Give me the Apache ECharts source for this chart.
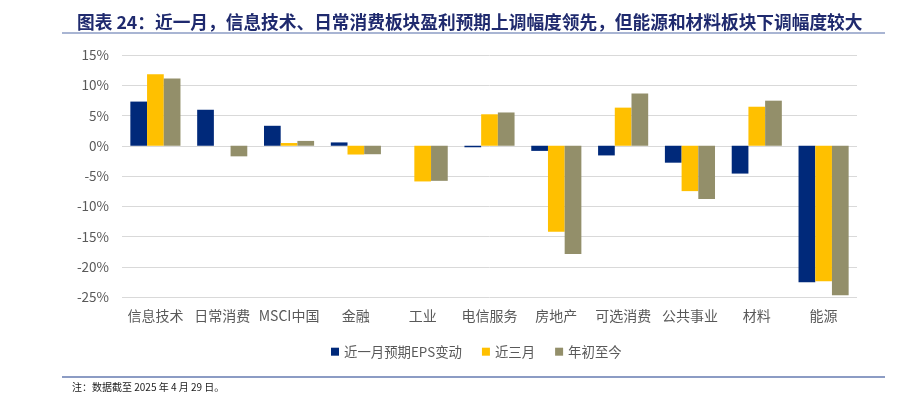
<!DOCTYPE html>
<html><head><meta charset="utf-8">
<script src="https://cdn.jsdelivr.net/npm/echarts@6/dist/echarts.min.js"></script>
<style>html,body{margin:0;padding:0;background:#fff}#c{width:901px;height:398px}</style>
</head><body><div id="c"></div>
<script>
const categories = ['信息技术','日常消费','MSCI中国','金融','工业','电信服务','房地产','可选消费','公共事业','材料','能源'];
const epsMonth = [7.3, 5.95, 3.3, 0.55, 0, -0.25, -0.85, -1.6, -2.8, -4.6, -22.55];
const threeMonth = [11.8, 0, 0.45, -1.45, -5.9, 5.2, -14.2, 6.3, -7.5, 6.45, -22.4];
const ytd = [11.1, -1.75, 0.8, -1.4, -5.8, 5.5, -17.9, 8.65, -8.8, 7.45, -24.7];
const seriesNames = ['近一月预期EPS变动','近三月','年初至今'];
const titleText = '图表 24：近一月，信息技术、日常消费板块盈利预期上调幅度领先，但能源和材料板块下调幅度较大';
const noteText = '注：数据截至 2025 年 4 月 29 日。';

const colors = ['#00297A','#FFC000','#938F6A'];
const font = '"Noto Sans CJK SC", "Noto Sans", sans-serif';
const chart = echarts.init(document.getElementById('c'), null, {renderer:'canvas'});
const mk = (name, data, i) => ({
  name, type:'bar', data, barGap:'0%', barCategoryGap:'25%',
  itemStyle:{color:colors[i]}
});
chart.setOption({
  animation:false,
  color:colors,
  textStyle:{fontFamily:font},
  title:{text:titleText, left:72, top:8,
    textStyle:{fontSize:17.7, fontWeight:'bold', color:'#1F2A6E', fontFamily:font}},
  legend:{data:seriesNames, left:326, top:340, itemWidth:8, itemHeight:8, itemGap:20,
    icon:'rect', textStyle:{fontSize:13.4, color:'#595959', fontFamily:font}},
  grid:{left:122, right:44, top:55, bottom:101},
  xAxis:{type:'category', data:categories, axisLine:{show:false}, axisTick:{show:false},
    axisLabel:{color:'#595959', fontSize:14, margin:12, interval:0, fontFamily:font}},
  yAxis:{type:'value', min:-25, max:15, interval:5,
    axisLabel:{formatter:'{value}%', color:'#595959', fontSize:13.5, margin:13, fontFamily:font},
    splitLine:{lineStyle:{color:'#D9D9D9', width:1}}, axisLine:{show:false}, axisTick:{show:false}},
  series:[mk(seriesNames[0], epsMonth, 0), mk(seriesNames[1], threeMonth, 1), mk(seriesNames[2], ytd, 2)],
  graphic:[
    {type:'line', shape:{x1:62,y1:33,x2:885,y2:33}, style:{stroke:'#8C9CC4', lineWidth:1.5}},
    {type:'line', shape:{x1:62,y1:377,x2:885,y2:377}, style:{stroke:'#8C9CC4', lineWidth:2}},
    {type:'text', left:72, top:382, style:{text:noteText, fontSize:10, fill:'#222', fontFamily:font}}
  ]
});
</script></body></html>
